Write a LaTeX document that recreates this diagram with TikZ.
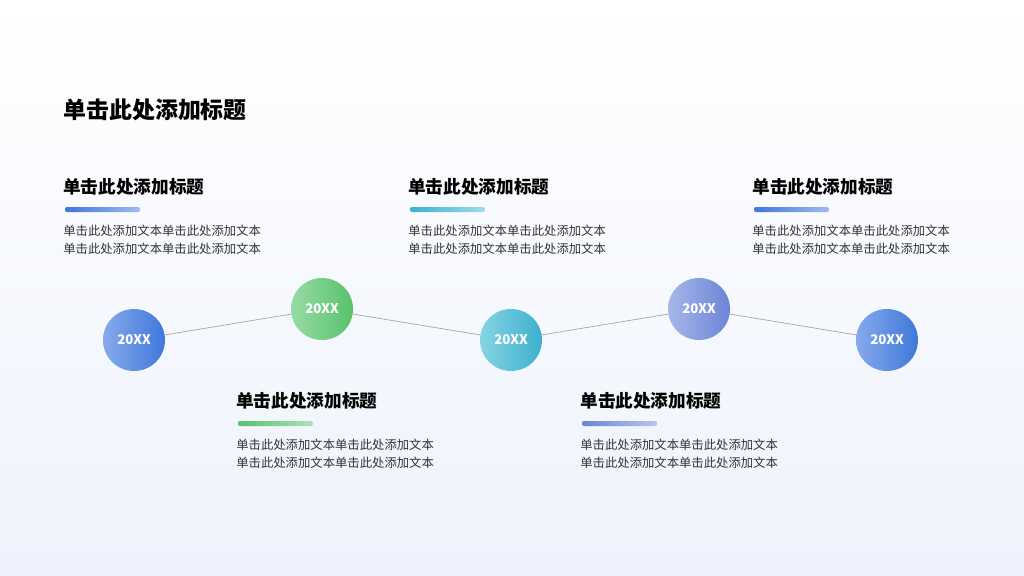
\documentclass[tikz,border=0pt]{standalone}
\usepackage{fontspec}
\setmainfont{Noto Sans CJK SC}
\definecolor{bluea}{HTML}{86AAEC}
\definecolor{blueb}{HTML}{3F78DA}
\definecolor{greena}{HTML}{97DBA6}
\definecolor{greenb}{HTML}{57C26A}
\definecolor{teala}{HTML}{86D4E4}
\definecolor{tealb}{HTML}{3DB0CE}
\definecolor{purpa}{HTML}{A6B7EA}
\definecolor{purpb}{HTML}{6C84D6}
\definecolor{bgbot}{HTML}{EDF2FC}
\begin{document}
\begin{tikzpicture}[x=0.5669pt,y=-0.5669pt]
  \tikzset{
    yearball/.style={circle, minimum size=62*0.5669pt, inner sep=0pt,
      font=\bfseries\fontsize{7.5}{8}\selectfont, text=white,
      shading=axis, shading angle=135},
    headline/.style={anchor=west, inner sep=0pt, font=\bfseries\fontsize{10}{12}\selectfont},
    bodytext/.style={anchor=north west, inner sep=0pt, align=left,
      text=black!80, font=\fontsize{7}{10.2}\selectfont},
    link/.style={draw=black!35, line width=0.4pt}
  }
  \shade[top color=white, bottom color=bgbot] (0,0) rectangle (1024,576);
  \useasboundingbox (0,0) rectangle (1024,576);

  \node[anchor=west, inner sep=0pt, font=\bfseries\fontsize{13}{15}\selectfont] (title) at (63,110) {单击此处添加标题};

  % years
  \node[yearball, left color=bluea, right color=blueb] (y1) at (134,340) {20XX};
  \node[yearball, left color=greena, right color=greenb] (y2) at (322,309) {20XX};
  \node[yearball, left color=teala, right color=tealb] (y3) at (511,340) {20XX};
  \node[yearball, left color=purpa, right color=purpb] (y4) at (699,309) {20XX};
  \node[yearball, left color=bluea, right color=blueb] (y5) at (887,340) {20XX};
  \draw[link] (y1) -- (y2);
  \draw[link] (y2) -- (y3);
  \draw[link] (y3) -- (y4);
  \draw[link] (y4) -- (y5);

  % text blocks
  \foreach \n/\x/\y/\ca/\cb in {a/63/187/blueb/bluea, b/408/187/tealb/teala,
      c/752/187/blueb/bluea, d/236/401/greenb/greena, e/580/401/purpb/purpa}{
    \node[headline] (h\n) at (\x,\y) {单击此处添加标题};
    \shade[left color=\ca, right color=\cb!80, rounded corners=2*0.5669pt]
      (\x+2,\y+20) rectangle (\x+77,\y+25);
    \node[bodytext] (t\n) at (\x,\y+38) {单击此处添加文本单击此处添加文本\\单击此处添加文本单击此处添加文本};
  }
\end{tikzpicture}
\end{document}
